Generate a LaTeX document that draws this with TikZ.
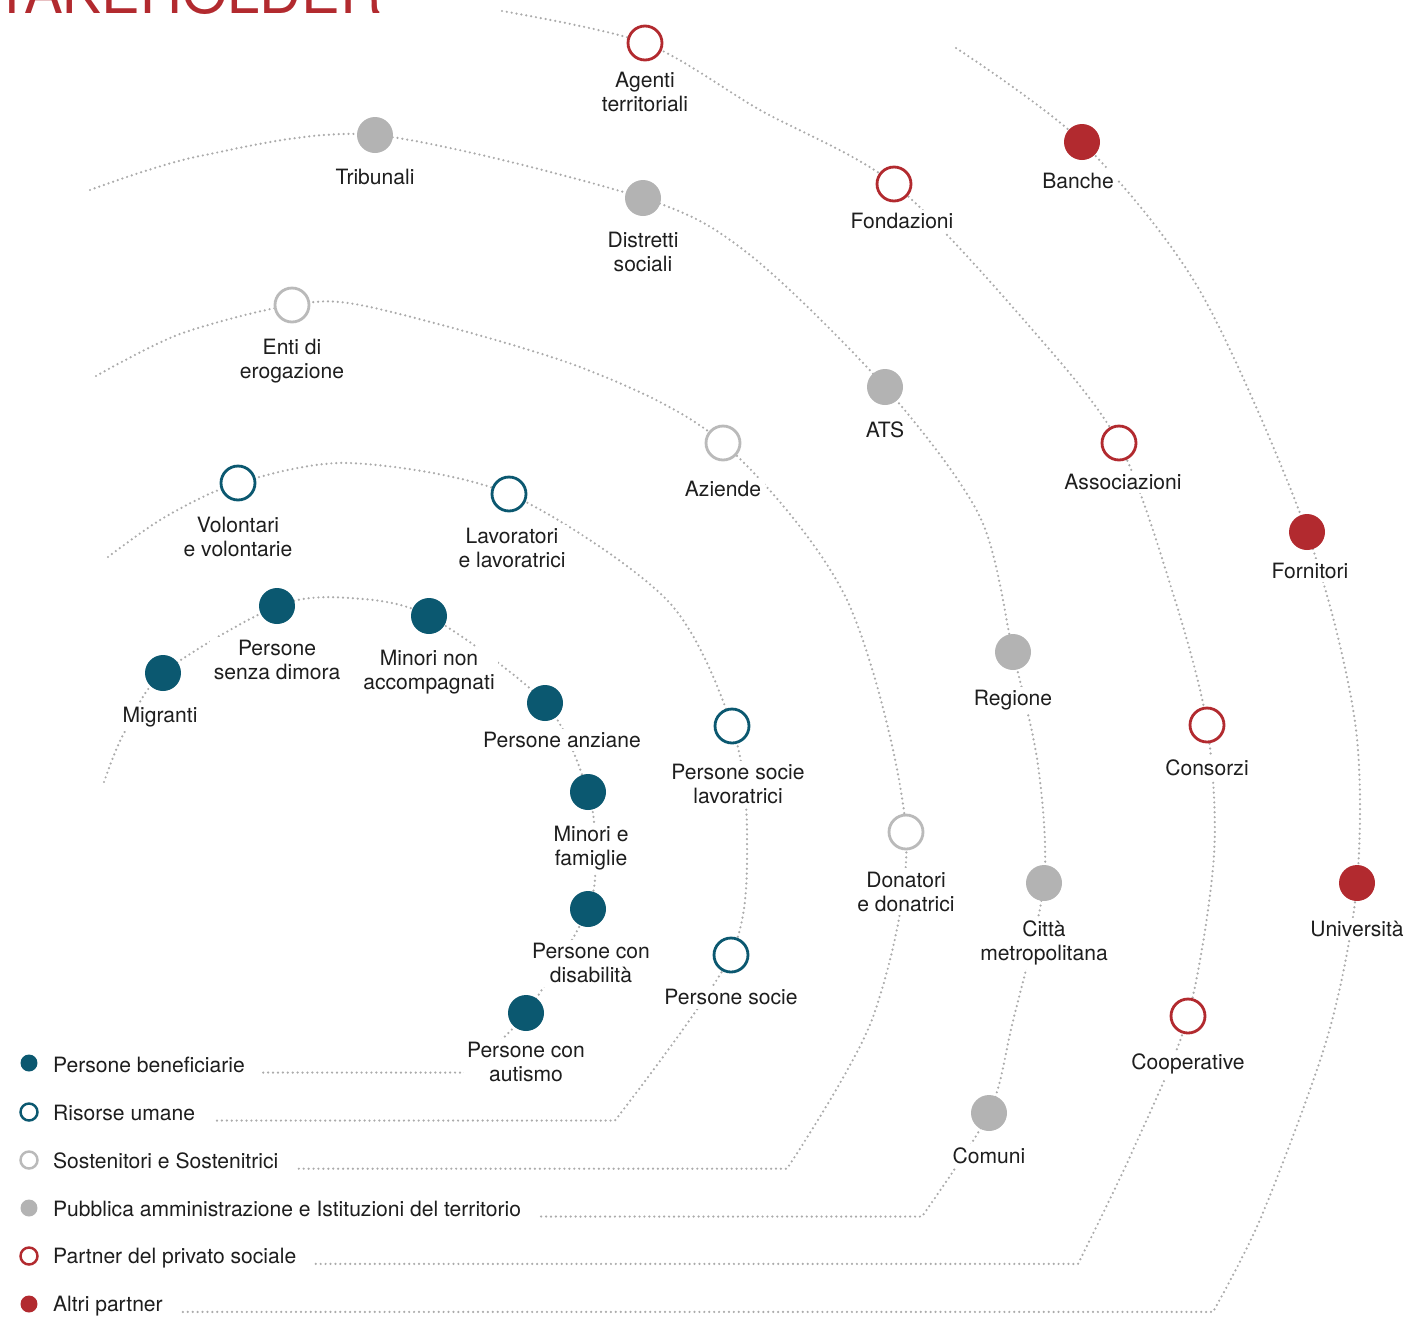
\documentclass[tikz,border=0pt]{standalone}
\usepackage{fontspec}
\setmainfont{TeX Gyre Heros}
\usetikzlibrary{positioning,backgrounds}

\definecolor{petrol}{HTML}{0B5870}
\definecolor{bordeaux}{HTML}{B22A2F}
\definecolor{ashfill}{HTML}{B3B3B3}
\definecolor{ashline}{HTML}{BABABA}
\definecolor{dotgray}{HTML}{ABABAB}
\definecolor{ink}{HTML}{1E1E1E}

\tikzset{
  stake/.style={circle, inner sep=0pt, minimum size=0.72cm},
  openstake/.style={circle, inner sep=0pt, minimum size=0.68cm,
    line width=1.6pt, fill=white},
  benef/.style={stake, fill=petrol},
  risorse/.style={openstake, draw=petrol},
  sosten/.style={openstake, draw=ashline},
  pubblica/.style={stake, fill=ashfill},
  privato/.style={openstake, draw=bordeaux},
  altri/.style={stake, fill=bordeaux},
  keysize/.style={minimum size=0.34cm, line width=1.4pt},
  lbl/.style={fill=white, text=ink, align=center, inner sep=2pt,
    font=\fontsize{12}{13.6}\selectfont},
  dotarc/.style={draw=dotgray, line width=1.4pt, line cap=round,
    dash pattern=on 0pt off 2.8pt},
}

\begin{document}
\begin{tikzpicture}[x=0.02cm, y=-0.02cm, node distance=7pt]
\useasboundingbox (0,0) rectangle (1409,1316);
\clip (0,0) rectangle (1409,1316);

% Title, cut by the top of the page
\node[anchor=base west, inner sep=0pt, text=bordeaux,
  font=\fontsize{33}{36}\selectfont] (title) at (-43,13) {STAKEHOLDER};

%%%%%%%%%%%%%%%%%%%
% Persone beneficiarie

\node[benef] (ben_migranti) at (163,673) {};
\node[benef] (ben_senzadimora) at (277,606) {};
\node[benef] (ben_minori) at (429,616) {};
\node[benef] (ben_anziane) at (545,703) {};
\node[benef] (ben_famiglie) at (588,792) {};
\node[benef] (ben_disabilita) at (588,909) {};
\node[benef] (ben_autismo) at (526,1013) {};

\node[lbl, below=of ben_migranti, xshift=-0.06cm] {Migranti};
\node[lbl, below=of ben_senzadimora] {Persone\\senza dimora};
\node[lbl, below=of ben_minori] {Minori non\\accompagnati};
\node[lbl, below=4pt of ben_anziane, xshift=0.34cm] {Persone anziane};
\node[lbl, below=of ben_famiglie, xshift=0.06cm] {Minori e\\famiglie};
\node[lbl, below=of ben_disabilita, xshift=0.06cm] {Persone con\\disabilità};
\node[lbl, below=4pt of ben_autismo] {Persone con\\autismo};

%%%%%%%%%%%%%%%%%%%
% Risorse umane

\node[risorse] (ris_volontari) at (238,483) {};
\node[risorse] (ris_lavoratori) at (509,494) {};
\node[risorse] (ris_socielav) at (732,726) {};
\node[risorse] (ris_socie) at (731,955) {};

\node[lbl, below=of ris_volontari] {Volontari\\e volontarie};
\node[lbl, below=of ris_lavoratori, xshift=0.06cm] {Lavoratori\\e lavoratrici};
\node[lbl, below=9pt of ris_socielav, xshift=0.12cm] {Persone socie\\lavoratrici};
\node[lbl, below=of ris_socie] {Persone socie};

%%%%%%%%%%%%%%%%%%%
% Sostenitori e Sostenitrici

\node[sosten] (sos_enti) at (292,305) {};
\node[sosten] (sos_aziende) at (723,443) {};
\node[sosten] (sos_donatori) at (906,832) {};

\node[lbl, below=of sos_enti] {Enti di\\erogazione};
\node[lbl, below=9pt of sos_aziende] {Aziende};
\node[lbl, below=10pt of sos_donatori] {Donatori\\e donatrici};

%%%%%%%%%%%%%%%%%%%
% Pubblica amministrazione

\node[pubblica] (pub_tribunali) at (375,135) {};
\node[pubblica] (pub_distretti) at (643,198) {};
\node[pubblica] (pub_ats) at (885,387) {};
\node[pubblica] (pub_regione) at (1013,652) {};
\node[pubblica] (pub_citta) at (1044,883) {};
\node[pubblica] (pub_comuni) at (989,1113) {};

\node[lbl, below=of pub_tribunali] {Tribunali};
\node[lbl, below=of pub_distretti] {Distretti\\sociali};
\node[lbl, below=of pub_ats] {ATS};
\node[lbl, below=9pt of pub_regione] {Regione};
\node[lbl, below=9pt of pub_citta] {Città\\metropolitana};
\node[lbl, below=of pub_comuni] {Comuni};

%%%%%%%%%%%%%%%%%%%
% Partner del privato sociale

\node[privato] (pri_agenti) at (645,43) {};
\node[privato] (pri_fondazioni) at (894,184) {};
\node[privato] (pri_associazioni) at (1119,443) {};
\node[privato] (pri_consorzi) at (1207,725) {};
\node[privato] (pri_cooperative) at (1188,1016) {};

\node[lbl, below=4pt of pri_agenti] {Agenti\\territoriali};
\node[lbl, below=4pt of pri_fondazioni, xshift=0.16cm] {Fondazioni};
\node[lbl, below=5pt of pri_associazioni, xshift=0.08cm] {Associazioni};
\node[lbl, below=of pri_consorzi] {Consorzi};
\node[lbl, below=9pt of pri_cooperative] {Cooperative};

%%%%%%%%%%%%%%%%%%%
% Altri partner

\node[altri] (alt_banche) at (1082,142) {};
\node[altri] (alt_fornitori) at (1307,532) {};
\node[altri] (alt_universita) at (1357,883) {};

\node[lbl, below=5pt of alt_banche, xshift=-0.08cm] {Banche};
\node[lbl, below=5pt of alt_fornitori, xshift=0.06cm] {Fornitori};
\node[lbl, below=9pt of alt_universita] {Università};

%%%%%%%%%%%%%%%%%%%
% Legend

\node[benef, keysize] (key_ben) at (29,1063) {};
\node[risorse, keysize] (key_ris) at (29,1112) {};
\node[sosten, keysize] (key_sos) at (29,1160) {};
\node[pubblica, keysize] (key_pub) at (29,1208) {};
\node[privato, keysize] (key_pri) at (29,1256) {};
\node[altri, keysize] (key_alt) at (29,1304) {};

\node[lbl, right=6pt of key_ben, yshift=-0.04cm] (key_ben_t) {Persone beneficiarie};
\node[lbl, right=6pt of key_ris, yshift=-0.02cm] (key_ris_t) {Risorse umane};
\node[lbl, right=6pt of key_sos, yshift=-0.02cm] (key_sos_t) {Sostenitori e Sostenitrici};
\node[lbl, right=6pt of key_pub, yshift=-0.02cm] (key_pub_t) {Pubblica amministrazione e Istituzioni del territorio};
\node[lbl, right=6pt of key_pri, yshift=-0.05cm] (key_pri_t) {Partner del privato sociale};
\node[lbl, right=6pt of key_alt, yshift=-0.05cm] (key_alt_t) {Altri partner};

\coordinate[right=8pt of key_ben_t.base east] (key_ben_end);
\coordinate[right=8pt of key_ris_t.base east] (key_ris_end);
\coordinate[right=8pt of key_sos_t.base east] (key_sos_end);
\coordinate[right=8pt of key_pub_t.base east] (key_pub_end);
\coordinate[right=8pt of key_pri_t.base east] (key_pri_end);
\coordinate[right=8pt of key_alt_t.base east] (key_alt_end);

%%%%%%%%%%%%%%%%%%%
% Orbits

\coordinate (a1s) at (104,782);
\coordinate (a1l) at (123,735);
\coordinate (a1t) at (350,598);
\coordinate (a1r) at (595,850);
\coordinate (a1e) at (466,0);

\coordinate (a2s) at (108,557);
\coordinate (a2l) at (165,517);
\coordinate (a2t) at (350,463);
\coordinate (a2m) at (667,600);
\coordinate (a2r) at (747,835);
\coordinate (a2e) at (615,0);

\coordinate (a3s) at (96,376);
\coordinate (a3l) at (180,334);
\coordinate (a3t) at (370,307);
\coordinate (a3m) at (580,367);
\coordinate (a3n) at (847,600);
\coordinate (a3b) at (873,1017);
\coordinate (a3e) at (787,0);

\coordinate (a4s) at (90,190);
\coordinate (a4l) at (200,156);
\coordinate (a4m) at (750,255);
\coordinate (a4n) at (980,517);
\coordinate (a4r) at (1038,765);
\coordinate (a4b) at (1012,1025);
\coordinate (a4e) at (922,0);

\coordinate (a5s) at (502,11);
\coordinate (a5m) at (760,110);
\coordinate (a5n) at (1030,327);
\coordinate (a5o) at (1175,600);
\coordinate (a5r) at (1214,855);
\coordinate (a5b) at (1133,1150);
\coordinate (a5e) at (1078,0);

\coordinate (a6s) at (956,48);
\coordinate (a6m) at (1200,291);
\coordinate (a6r) at (1355,722);
\coordinate (a6b) at (1328,1035);
\coordinate (a6c) at (1262,1215);
\coordinate (a6e) at (1213,0);

\begin{pgfonlayer}{background}
\draw[dotarc] plot[smooth] coordinates {(a1s) (a1l) (ben_migranti)
    (ben_senzadimora) (a1t) (ben_minori) (ben_anziane) (ben_famiglie) (a1r)
    (ben_disabilita) (ben_autismo) (a1e |- key_ben_end)} -- (key_ben_end);
\draw[dotarc] plot[smooth] coordinates {(a2s) (a2l) (ris_volontari) (a2t)
    (ris_lavoratori) (a2m) (ris_socielav) (a2r) (ris_socie)
    (a2e |- key_ris_end)} -- (key_ris_end);
\draw[dotarc] plot[smooth] coordinates {(a3s) (a3l) (sos_enti) (a3t) (a3m)
    (sos_aziende) (a3n) (sos_donatori) (a3b)
    (a3e |- key_sos_end)} -- (key_sos_end);
\draw[dotarc] plot[smooth] coordinates {(a4s) (a4l) (pub_tribunali)
    (pub_distretti) (a4m) (pub_ats) (a4n) (pub_regione) (a4r) (pub_citta)
    (a4b) (pub_comuni) (a4e |- key_pub_end)} -- (key_pub_end);
\draw[dotarc] plot[smooth] coordinates {(a5s) (pri_agenti) (a5m)
    (pri_fondazioni) (a5n) (pri_associazioni) (a5o) (pri_consorzi) (a5r)
    (pri_cooperative) (a5b) (a5e |- key_pri_end)} -- (key_pri_end);
\draw[dotarc] plot[smooth] coordinates {(a6s) (alt_banche) (a6m)
    (alt_fornitori) (a6r) (alt_universita) (a6b) (a6c)
    (a6e |- key_alt_end)} -- (key_alt_end);
\end{pgfonlayer}

\end{tikzpicture}
\end{document}
